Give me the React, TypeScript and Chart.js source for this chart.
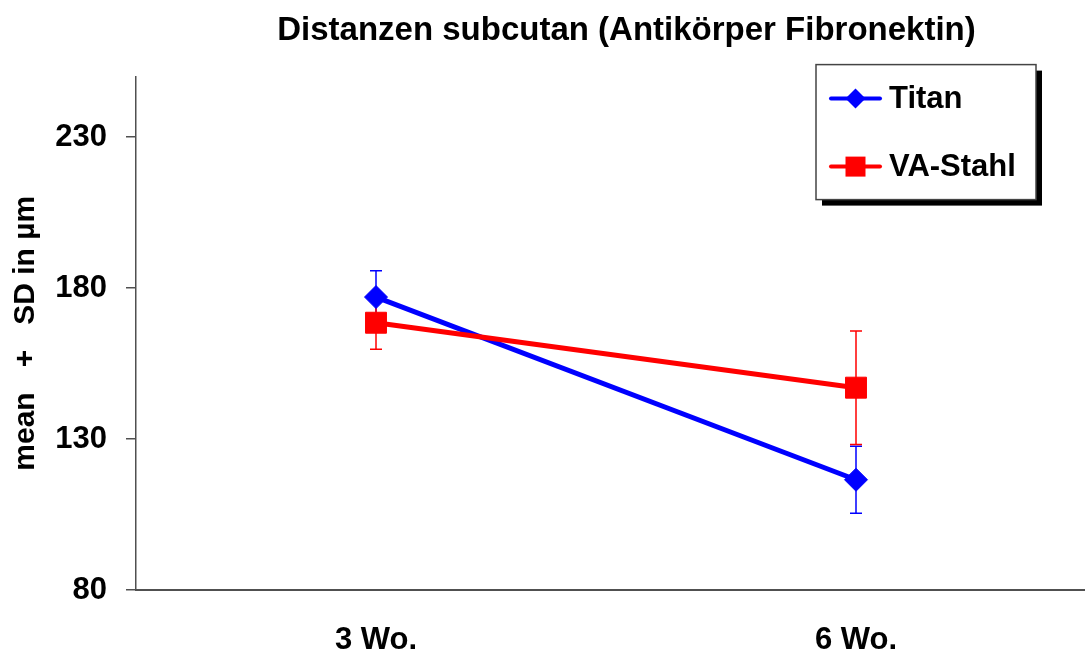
import React, { useEffect, useRef } from 'react';
import { Chart, registerables } from 'chart.js';

Chart.register(...registerables);

const categories = ['3 Wo.', '6 Wo.'];
const seriesNames = ['Titan', 'VA-Stahl'];
const titanMean = [177, 116.5];
const titanSD = [8.7, 11.1];
const stahlMean = [168.5, 147];
const stahlSD = [8.8, 18.8];
const yTicks = [80, 130, 180, 230];
const yMin = 80;
const yMax = 250;
const titleText = 'Distanzen subcutan (Antikörper Fibronektin)';
const yTitleText = 'mean   +   SD in µm';

const FONT = "'Liberation Sans', Arial, Helvetica, sans-serif";
const CANVAS_W = 1253;
const CANVAS_H = 654;

const errorBars = {
  id: 'errorBars',
  beforeDatasetsDraw(chart: any) {
    const ctx = chart.ctx;
    const y = chart.scales.y;
    chart.data.datasets.forEach((ds: any, i: number) => {
      const meta = chart.getDatasetMeta(i);
      ctx.save();
      ctx.strokeStyle = ds.borderColor;
      ctx.lineWidth = 1.5;
      meta.data.forEach((pt: any, j: number) => {
        const v = ds.data[j];
        const s = ds.sd[j];
        const x = pt.x;
        const top = y.getPixelForValue(v + s);
        const bot = y.getPixelForValue(v - s);
        ctx.beginPath();
        ctx.moveTo(x, top);
        ctx.lineTo(x, bot);
        ctx.moveTo(x - 6, top);
        ctx.lineTo(x + 6, top);
        ctx.moveTo(x - 6, bot);
        ctx.lineTo(x + 6, bot);
        ctx.stroke();
      });
      ctx.restore();
    });
  },
};

const boxLegend = {
  id: 'boxLegend',
  afterDraw(chart: any) {
    const { ctx, chartArea } = chart;
    const left = chartArea.right - 280;
    const top = chartArea.top - 12;
    const w = 220;
    const h = 135;
    ctx.save();
    ctx.fillStyle = '#000';
    ctx.fillRect(left + 6, top + 6, w, h);
    ctx.fillStyle = '#fff';
    ctx.fillRect(left, top, w, h);
    ctx.strokeStyle = '#444';
    ctx.lineWidth = 1.5;
    ctx.strokeRect(left, top, w, h);
    chart.data.datasets.forEach((ds: any, i: number) => {
      const cy = top + 34 + i * 68;
      const x0 = left + 15;
      const x1 = left + 64;
      const cx = (x0 + x1) / 2;
      ctx.strokeStyle = ds.borderColor;
      ctx.lineWidth = 4;
      ctx.lineCap = 'round';
      ctx.beginPath();
      ctx.moveTo(x0, cy);
      ctx.lineTo(x1, cy);
      ctx.stroke();
      ctx.fillStyle = ds.borderColor;
      ctx.beginPath();
      if (ds.pointStyle === 'rectRot') {
        const r = 10;
        ctx.moveTo(cx - r, cy);
        ctx.lineTo(cx, cy - r);
        ctx.lineTo(cx + r, cy);
        ctx.lineTo(cx, cy + r);
        ctx.closePath();
      } else {
        ctx.rect(cx - 10, cy - 10, 20, 20);
      }
      ctx.fill();
      ctx.fillStyle = '#000';
      ctx.font = `bold 31px ${FONT}`;
      ctx.textBaseline = 'middle';
      ctx.textAlign = 'left';
      ctx.fillText(ds.label, left + 73, cy + 1);
    });
    ctx.restore();
  },
};

export default function App() {
  const ref = useRef<HTMLCanvasElement | null>(null);

  useEffect(() => {
    if (!ref.current) return;
    const chart = new Chart(ref.current, {
      type: 'line',
      data: {
        labels: categories,
        datasets: [
          {
            label: seriesNames[0],
            data: titanMean,
            sd: titanSD,
            borderColor: '#0000ff',
            backgroundColor: '#0000ff',
            borderWidth: 5,
            pointStyle: 'rectRot',
            pointRadius: 11.5,
            pointBorderWidth: 1,
            order: 1,
          } as any,
          {
            label: seriesNames[1],
            data: stahlMean,
            sd: stahlSD,
            borderColor: '#ff0000',
            backgroundColor: '#ff0000',
            borderWidth: 5,
            pointStyle: 'rect',
            pointRadius: 14.8,
            pointBorderWidth: 1,
            order: 0,
          } as any,
        ],
      },
      options: {
        responsive: false,
        animation: false,
        events: [],
        layout: { padding: 0 },
        plugins: {
          legend: { display: false },
          tooltip: { enabled: false },
          title: {
            display: true,
            text: titleText,
            color: '#000',
            font: { family: FONT, size: 33, weight: 'bold' },
            padding: { top: 11, bottom: 26 },
          },
        },
        scales: {
          x: {
            type: 'category',
            offset: true,
            grid: { display: false, drawTicks: false },
            border: { display: true, color: '#505050', width: 2 },
            ticks: {
              color: '#000',
              font: { family: FONT, size: 31, weight: 'bold' },
              padding: 32,
              maxRotation: 0,
            },
            afterFit: (s: any) => {
              s.height = 64;
            },
          },
          y: {
            type: 'linear',
            position: 'left',
            min: yMin,
            max: yMax,
            grid: {
              drawOnChartArea: false,
              drawTicks: true,
              tickLength: 10,
              color: '#505050',
              lineWidth: 1.5,
            },
            border: { display: true, color: '#505050', width: 1.5 },
            ticks: {
              color: '#000',
              font: { family: FONT, size: 31, weight: 'bold' },
              padding: 19,
            },
            afterBuildTicks: (s: any) => {
              s.ticks = yTicks.map((v) => ({ value: v }));
            },
            title: {
              display: true,
              text: yTitleText,
              color: '#000',
              font: { family: FONT, size: 30, weight: 'bold' },
              padding: { top: 8, bottom: 0 },
            },
            afterFit: (s: any) => {
              s.width = 136;
            },
          },
          yR: {
            type: 'linear',
            position: 'right',
            display: true,
            grid: { display: false },
            border: { display: false },
            ticks: { display: false },
            afterFit: (s: any) => {
              s.width = 157;
            },
          },
        },
      },
      plugins: [errorBars, boxLegend],
    });
    return () => chart.destroy();
  }, []);

  return (
    <div
      style={{
        position: 'fixed',
        left: 0,
        top: 0,
        width: 1085,
        height: 654,
        overflow: 'hidden',
        background: '#fff',
      }}
    >
      <canvas
        ref={ref}
        width={CANVAS_W}
        height={CANVAS_H}
        style={{ display: 'block', width: CANVAS_W, height: CANVAS_H }}
      />
    </div>
  );
}
